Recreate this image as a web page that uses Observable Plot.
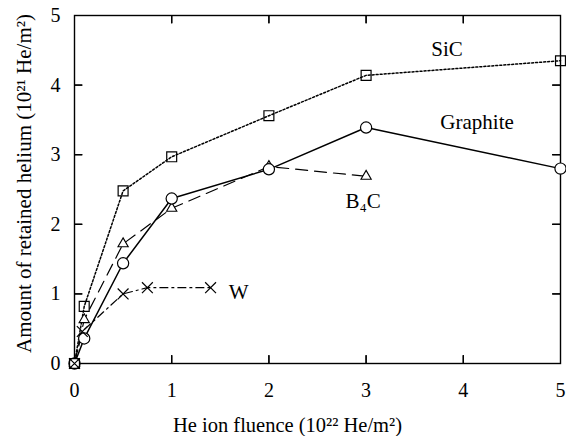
<!DOCTYPE html>
<html><head><meta charset="utf-8">
<script src="https://cdn.jsdelivr.net/npm/d3@7"></script>
<script src="https://cdn.jsdelivr.net/npm/@observablehq/plot@0.6"></script>
<style>body{margin:0;background:#fff} svg text{font-family:'Liberation Serif','Times New Roman',serif}</style>
</head><body><div id="chart"></div>
<script>
// Data
const sicX = [0, 0.1, 0.5, 1, 2, 3, 5];
const sicY = [0, 0.82, 2.48, 2.97, 3.56, 4.14, 4.35];
const graphiteX = [0, 0.1, 0.5, 1, 2, 3, 5];
const graphiteY = [0, 0.36, 1.44, 2.37, 2.79, 3.39, 2.80];
const b4cX = [0, 0.1, 0.5, 1, 2, 3];
const b4cY = [0, 0.63, 1.72, 2.23, 2.83, 2.69];
const wX = [0, 0.08, 0.5, 0.75, 1.4];
const wY = [0, 0.46, 1.0, 1.09, 1.09];
const xTickValues = [0, 1, 2, 3, 4, 5];
const yTickValues = [0, 1, 2, 3, 4, 5];
const innerTicks = [1, 2, 3, 4];
const xTitle = "He ion fluence (10²² He/m²)";
const yTitle = "Amount of retained helium (10²¹ He/m²)";

const toRows = (xs, ys) => xs.map((x, i) => ({x, y: ys[i]}));
const sic = toRows(sicX, sicY);
const graphite = toRows(graphiteX, graphiteY);
const b4c = toRows(b4cX, b4cY);
const w = toRows(wX, wY);

const font = "'Liberation Serif', 'Times New Roman', serif";
const fmt = d => String(d);
const [xMin, xMax] = [xTickValues[0], xTickValues[xTickValues.length - 1]];
const [yMin, yMax] = [yTickValues[0], yTickValues[yTickValues.length - 1]];

// short tick-line symbols for inward ticks
const tickLen = 8;
const tickSymbol = (dx, dy) => ({draw(ctx) { ctx.moveTo(0, 0); ctx.lineTo(dx, dy); }});
const tickStyle = {stroke: "black", fill: "none", strokeWidth: 1.3};

const chart = Plot.plot({
  width: 566,
  height: 436,
  marginLeft: 74,
  marginRight: 6,
  marginTop: 15,
  marginBottom: 73,
  style: {fontFamily: font, fontSize: "20px", background: "white", color: "black"},
  x: {domain: [xMin, xMax], axis: null},
  y: {domain: [yMin, yMax], axis: null},
  marks: [
    Plot.frame({stroke: "black", strokeWidth: 1.4}),
    // tick labels
    Plot.axisX(xTickValues, {anchor: "bottom", tickSize: 0, tickPadding: 19, label: null, tickFormat: fmt, fontSize: 20, fontFamily: font}),
    Plot.axisY(yTickValues, {anchor: "left", tickSize: 0, tickPadding: 14, label: null, tickFormat: fmt, fontSize: 20, fontFamily: font}),
    // axis titles
    Plot.text([xTitle], {frameAnchor: "bottom", text: d => d, textAnchor: "middle", lineAnchor: "middle", dx: -30, dy: 62, fontSize: 20.5, fontFamily: font}),
    Plot.text([yTitle], {frameAnchor: "left", text: d => d, textAnchor: "middle", lineAnchor: "middle", rotate: -90, dx: -50, dy: -6, fontSize: 21, fontFamily: font}),
    // series lines
    Plot.line(sic, {x: "x", y: "y", curve: "linear", stroke: "black", strokeWidth: 1.5, strokeDasharray: "2,2"}),
    Plot.line(b4c, {x: "x", y: "y", stroke: "black", strokeWidth: 1.2, strokeDasharray: "12,7"}),
    Plot.line(w, {x: "x", y: "y", stroke: "black", strokeWidth: 1.2, strokeDasharray: "8,4,2,4"}),
    Plot.line(graphite, {x: "x", y: "y", stroke: "black", strokeWidth: 1.5}),
    // markers
    Plot.dot(b4c, {x: "x", y: "y", symbol: "triangle", r: 3.8, stroke: "black", fill: "white", strokeWidth: 1.1}),
    Plot.dot(graphite, {x: "x", y: "y", symbol: "circle", r: 5.6, stroke: "black", fill: "white", strokeWidth: 1.2}),
    Plot.dot(sic, {x: "x", y: "y", symbol: "square", r: 5.6, stroke: "black", fill: "none", strokeWidth: 1.2}),
    Plot.dot(w, {x: "x", y: "y", symbol: "times", r: 5, stroke: "black", strokeWidth: 1.2}),
    // series labels
    Plot.text([sic[5]], {x: "x", y: "y", text: () => "SiC", dx: 81, dy: -26, fontSize: 21, fontFamily: font}),
    Plot.text([graphite[5]], {x: "x", y: "y", text: () => "Graphite", dx: 111, dy: -5, fontSize: 21, fontFamily: font}),
    Plot.text([b4c[5]], {x: "x", y: "y", text: () => "B₄C", dx: -3, dy: 25, fontSize: 21, fontFamily: font}),
    Plot.text([w[4]], {x: "x", y: "y", text: () => "W", dx: 28, dy: 5, fontSize: 21, fontFamily: font}),
    // inward ticks (bottom, top, left, right) drawn last
    Plot.ruleX(innerTicks, {x: d => d, y1: yMin, y2: yMin, insetTop: -tickLen, stroke: "black", strokeWidth: 1.3}),
    Plot.ruleX(innerTicks, {x: d => d, y1: yMax, y2: yMax, insetBottom: -tickLen, stroke: "black", strokeWidth: 1.3}),
    Plot.ruleY(innerTicks, {y: d => d, x1: xMin, x2: xMin, insetRight: -tickLen, stroke: "black", strokeWidth: 1.3}),
    Plot.ruleY(innerTicks, {y: d => d, x1: xMax, x2: xMax, insetLeft: -tickLen, stroke: "black", strokeWidth: 1.3}),
    Plot.dot(innerTicks, {x: d => d, y: () => yMin, symbol: tickSymbol(0, -tickLen), ...tickStyle}),
    Plot.dot(innerTicks, {x: d => d, y: () => yMax, symbol: tickSymbol(0, tickLen), ...tickStyle}),
    Plot.dot(innerTicks, {y: d => d, x: () => xMin, symbol: tickSymbol(tickLen, 0), ...tickStyle}),
    Plot.dot(innerTicks, {y: d => d, x: () => xMax, symbol: tickSymbol(-tickLen, 0), ...tickStyle})
  ]
});
document.getElementById("chart").appendChild(chart);
</script>
</body></html>
